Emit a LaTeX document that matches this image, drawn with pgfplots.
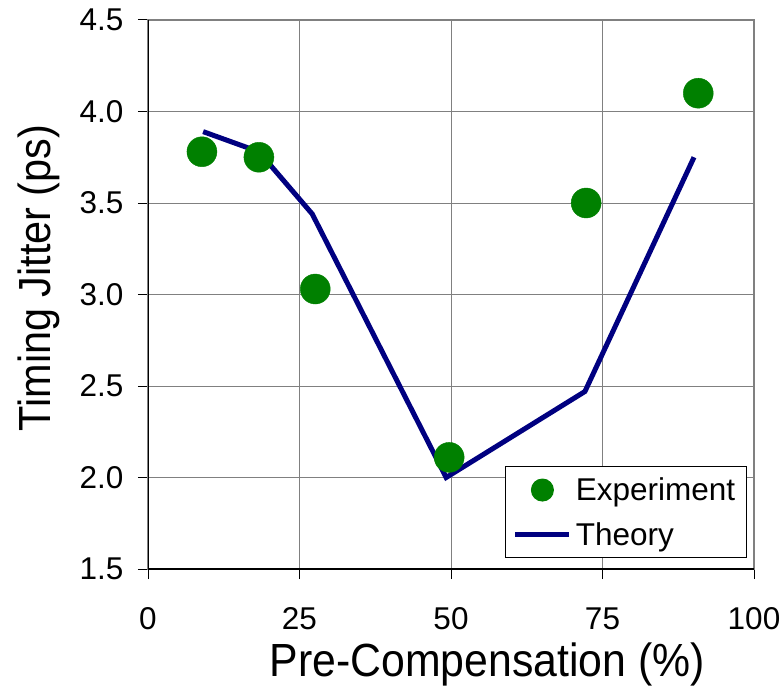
\documentclass[border=0pt]{standalone}
\usepackage{pgfplots}
\pgfplotsset{compat=1.18}
\usepackage{fontspec}
\setmainfont{Liberation Sans}
\newfontfamily\titlefont{Liberation Sans}[FakeStretch=0.92]

\definecolor{expgreen}{RGB}{0,128,0}
\definecolor{theonavy}{RGB}{0,0,128}
\definecolor{gridgray}{RGB}{128,128,128}

\pgfplotsset{
  linelegend/.style={legend image code/.code={\draw[##1] (0pt,0pt) -- (54pt,0pt);}},
  marklegend/.style={legend image code/.code={\draw[##1, mark size=11pt] plot coordinates {(27pt,0pt)};}},
}

\begin{document}
\begin{tikzpicture}
\useasboundingbox (0,0) rectangle (784pt,694pt);
\begin{axis}[
  at={(148pt,125pt)}, anchor=south west,
  scale only axis, width=606pt, height=549pt,
  xmin=0, xmax=100, ymin=1.5, ymax=4.5,
  xtick={0,25,50,75,100},
  ytick={1.5,2.0,2.5,3.0,3.5,4.0,4.5},
  grid=major,
  major grid style={gridgray, line width=1pt},
  axis line style={gridgray, line width=1.5pt},
  tick style={black, line width=1pt},
  tick align=outside, major tick length=10pt,
  xtick pos=bottom, ytick pos=left,
  /pgf/number format/assume math mode=true,
  ticklabel style={font=\fontsize{31.5}{31.5}\selectfont},
  xticklabel style={yshift=-25pt},
  yticklabel style={xshift=-11pt, /pgf/number format/.cd, fixed, fixed zerofill, precision=1},
  xlabel={Pre-Compensation (\%)},
  ylabel={Timing Jitter (ps)},
  every axis x label/.style={at={(rel axis cs:0.560,-0.195)}, anchor=base,
    font=\titlefont\fontsize{46.5}{46.5}\selectfont},
  every axis y label/.style={at={(rel axis cs:-0.1617,0.530)}, anchor=base,
    rotate=90, font=\titlefont\fontsize{45}{45}\selectfont},
  legend style={at={(rel axis cs:0.988,0.020)}, anchor=south east,
    draw=black, line width=1pt, fill=white,
    font=\fontsize{31.5}{31.5}\selectfont,
    inner xsep=7pt, inner ysep=7pt, row sep=12pt,
    nodes={inner sep=4pt}},
  legend cell align=left,
  reverse legend,
]
% theory curve first so the measured points sit on top
\addplot[theonavy, line width=5pt, no marks, linelegend]
  coordinates {(9.1,3.89) (18.3,3.78) (27.1,3.44) (49.2,2.00) (72.1,2.47) (90.1,3.75)};
\addlegendentry{Theory}
\addplot[only marks, mark=*, mark size=15pt, color=expgreen, marklegend]
  coordinates {(8.9,3.78) (18.3,3.75) (27.6,3.03) (49.7,2.11) (72.3,3.50) (90.8,4.10)};
\addlegendentry{Experiment}
% black left and bottom axis lines
\draw[black, line width=1.5pt] (axis cs:0,4.5) -- (axis cs:0,1.5) -- (axis cs:100,1.5);
\end{axis}
\end{tikzpicture}
\end{document}
